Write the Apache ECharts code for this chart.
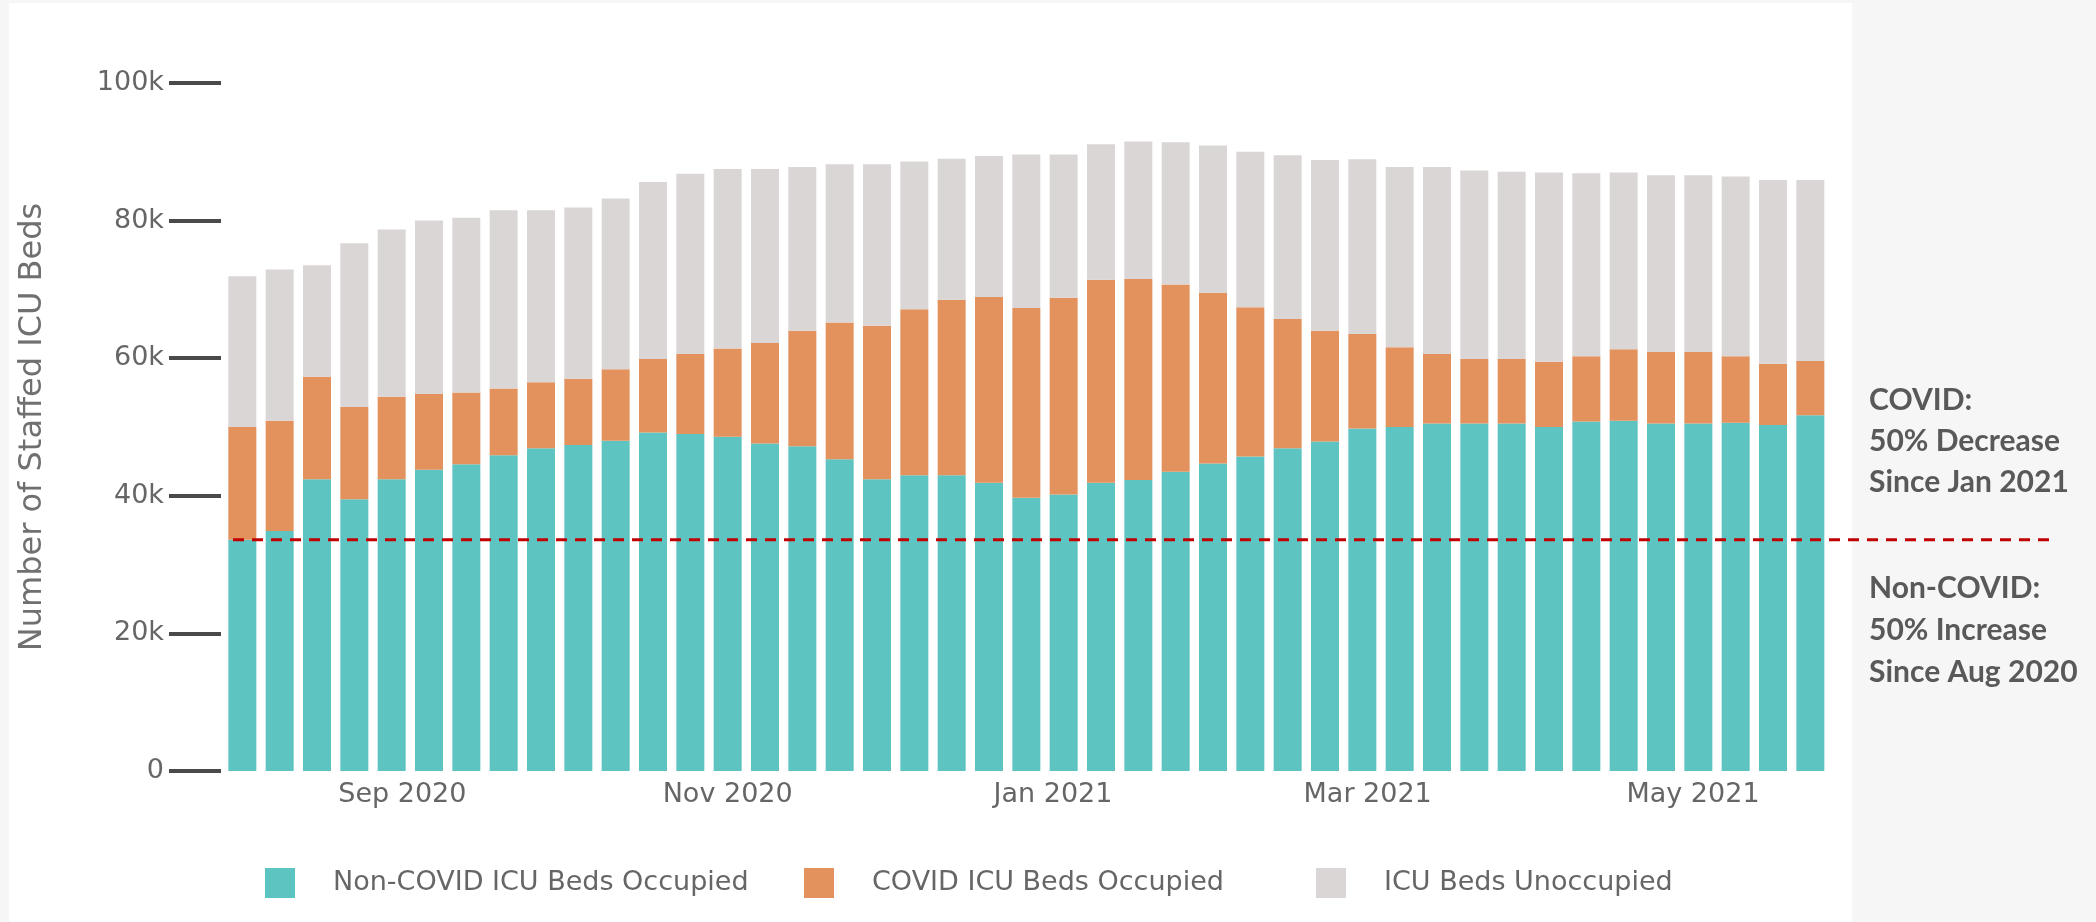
<!DOCTYPE html>
<html>
<head>
<meta charset="utf-8">
<script src="https://cdn.jsdelivr.net/npm/echarts@6/dist/echarts.min.js"></script>
<style>
  html, body { margin: 0; padding: 0; background: #f6f6f6; width: 2096px; height: 922px; overflow: hidden; }
  #bg { position: absolute; left: 9px; top: 3px; width: 1843px; height: 919px; background: #ffffff; }
  #chart { position: absolute; left: 0; top: 0; width: 2096px; height: 922px; }
</style>
</head>
<body>
<div id="bg"></div>
<div id="chart"></div>
<script>
// ---- data ----
const weeks = ['2020-08-02','2020-08-09','2020-08-16','2020-08-23','2020-08-30','2020-09-06','2020-09-13','2020-09-20','2020-09-27','2020-10-04','2020-10-11','2020-10-18','2020-10-25','2020-11-01','2020-11-08','2020-11-15','2020-11-22','2020-11-29','2020-12-06','2020-12-13','2020-12-20','2020-12-27','2021-01-03','2021-01-10','2021-01-17','2021-01-24','2021-01-31','2021-02-07','2021-02-14','2021-02-21','2021-02-28','2021-03-07','2021-03-14','2021-03-21','2021-03-28','2021-04-04','2021-04-11','2021-04-18','2021-04-25','2021-05-02','2021-05-09','2021-05-16','2021-05-23'];
const nonCovid = [33600,34900,42400,39500,42400,43800,44600,45900,46900,47400,48000,49200,49000,48600,47600,47200,45300,42400,43000,43000,41900,39700,40200,41900,42300,43500,44700,45700,46900,47900,49800,50000,50500,50500,50500,50000,50800,50900,50500,50500,50600,50300,51700];
const covid = [16400,16000,14900,13400,12000,11000,10400,9700,9600,9600,10400,10700,11600,12800,14600,16800,19900,22300,24100,25500,27000,27600,28600,29500,29200,27200,24800,21700,18800,16100,13700,11600,10100,9400,9400,9500,9500,10400,10400,10400,9700,8900,7900];
const unoccupied = [21900,22000,16200,23800,24300,25200,25400,25900,25000,24900,24800,25700,26200,26100,25300,23800,23000,23500,21500,20500,20500,22300,20800,19700,20000,20700,21400,22600,23800,24800,25400,26200,27200,27400,27200,27500,26600,25700,25700,25700,26100,26700,26300];
const seriesNames = ['Non-COVID ICU Beds Occupied', 'COVID ICU Beds Occupied', 'ICU Beds Unoccupied'];
const monthTicks = ['2020-09-01','2020-11-01','2021-01-01','2021-03-01','2021-05-01'];
const monthLabels = ['Sep 2020','Nov 2020','Jan 2021','Mar 2021','May 2021'];
const yTickLabels = ['0','20k','40k','60k','80k','100k'];
const xRange = ['2020-07-29','2021-05-28'];
const annotationCovid = ['COVID:', '50% Decrease', 'Since Jan 2021'];
const annotationNonCovid = ['Non-COVID:', '50% Increase', 'Since Aug 2020'];

// ---- helpers ----
const ts = s => new Date(s + 'T00:00:00').getTime();
const pairs = arr => weeks.map((w, i) => [ts(w), arr[i]]);
const monthTs = monthTicks.map(ts);
const baseline = nonCovid[0];

const colors = ['#5ec4c2', '#e3915d', '#dbd6d6'];
const FONT = 'DejaVu Sans';
const textGray = '#666666';

// layout
const W = 2096;
const gridLeft = 221, gridRight = 259;
const plotW = W - gridLeft - gridRight;
const barW = 28;
// ECharts widens a time axis that carries bars by half a bar on each side;
// shrink the requested range by the same amount so the final range is xRange.
const fullRange = ts(xRange[1]) - ts(xRange[0]);
const pad = (barW / 2) * fullRange / plotW;

const chart = echarts.init(document.getElementById('chart'), null, { renderer: 'canvas' });

const legendBase = (left, name) => ({
  left: left, top: 863, itemWidth: 30, itemHeight: 30, icon: 'rect', selectedMode: false,
  data: [name],
  textStyle: { fontFamily: FONT, fontSize: 27, color: textGray, padding: [0, 0, 0, 33] }
});

chart.setOption({
  backgroundColor: 'transparent',
  animation: false,
  grid: [
    { left: gridLeft, right: gridRight, top: 83, bottom: 151, outerBoundsMode: 'none', containLabel: false },
    { left: 233, right: 41, top: 83, bottom: 151, outerBoundsMode: 'none', containLabel: false }
  ],
  legend: [
    legendBase(260, seriesNames[0]),
    legendBase(799, seriesNames[1]),
    legendBase(1311, seriesNames[2])
  ],
  xAxis: [
    {
      type: 'time', gridIndex: 0, position: 'bottom',
      min: ts(xRange[0]) + pad, max: ts(xRange[1]) - pad,
      axisLine: { show: false }, axisTick: { show: false }, splitLine: { show: false },
      axisLabel: { show: false }
    },
    { type: 'value', gridIndex: 1, min: 0, max: 1, show: false },
    {
      type: 'value', gridIndex: 0, position: 'bottom', offset: 0,
      min: ts(xRange[0]), max: ts(xRange[1]),
      axisLine: { show: false }, axisTick: { show: false }, splitLine: { show: false },
      axisLabel: {
        customValues: monthTs,
        margin: 10,
        fontFamily: FONT, fontSize: 27, color: textGray,
        formatter: v => { const i = monthTs.indexOf(v); return i >= 0 ? monthLabels[i] : ''; }
      }
    }
  ],
  yAxis: [
    {
      type: 'value', gridIndex: 0, min: 0, max: 100000, interval: 20000,
      name: 'Number of Staffed ICU Beds', nameLocation: 'middle', nameGap: 172,
      nameTextStyle: { fontFamily: FONT, fontSize: 32, color: '#707070' },
      axisLine: { show: false },
      axisTick: { show: true, length: 52, lineStyle: { color: '#4a4a4a', width: 4 } },
      splitLine: { show: false },
      axisLabel: {
        margin: 57, fontFamily: FONT, fontSize: 27, color: textGray,
        formatter: v => yTickLabels[Math.round(v / 20000)]
      }
    },
    { type: 'value', gridIndex: 1, min: 0, max: 100000, show: false }
  ],
  series: [
    { name: seriesNames[0], type: 'bar', stack: 'icu', barWidth: barW, xAxisIndex: 0, yAxisIndex: 0,
      itemStyle: { color: colors[0] }, data: pairs(nonCovid) },
    { name: seriesNames[1], type: 'bar', stack: 'icu', barWidth: barW, xAxisIndex: 0, yAxisIndex: 0,
      itemStyle: { color: colors[1] }, data: pairs(covid) },
    { name: seriesNames[2], type: 'bar', stack: 'icu', barWidth: barW, xAxisIndex: 0, yAxisIndex: 0,
      itemStyle: { color: colors[2] }, data: pairs(unoccupied) },
    { name: 'baseline', type: 'line', xAxisIndex: 1, yAxisIndex: 1, z: 5,
      symbol: 'none', silent: true,
      lineStyle: { color: '#c00000', width: 3, type: [11, 8] },
      data: [[0, baseline], [1, baseline]] }
  ],
  graphic: [
    { type: 'text', left: 1869, top: 380, silent: true,
      style: { text: annotationCovid.join('\n'), fill: '#595959', font: 'bold 30px Lato', lineHeight: 41 } },
    { type: 'text', left: 1869, top: 567, silent: true,
      style: { text: annotationNonCovid.join('\n'), fill: '#595959', font: 'bold 30px Lato', lineHeight: 42 } }
  ]
});

// keep the label axis exactly in step with the bar axis' final range
const lo = chart.convertFromPixel({ xAxisIndex: 0 }, gridLeft);
const hi = chart.convertFromPixel({ xAxisIndex: 0 }, gridLeft + plotW);
if (isFinite(lo) && isFinite(hi)) {
  chart.setOption({ xAxis: [{}, {}, { min: lo, max: hi }] });
}
</script>
</body>
</html>
